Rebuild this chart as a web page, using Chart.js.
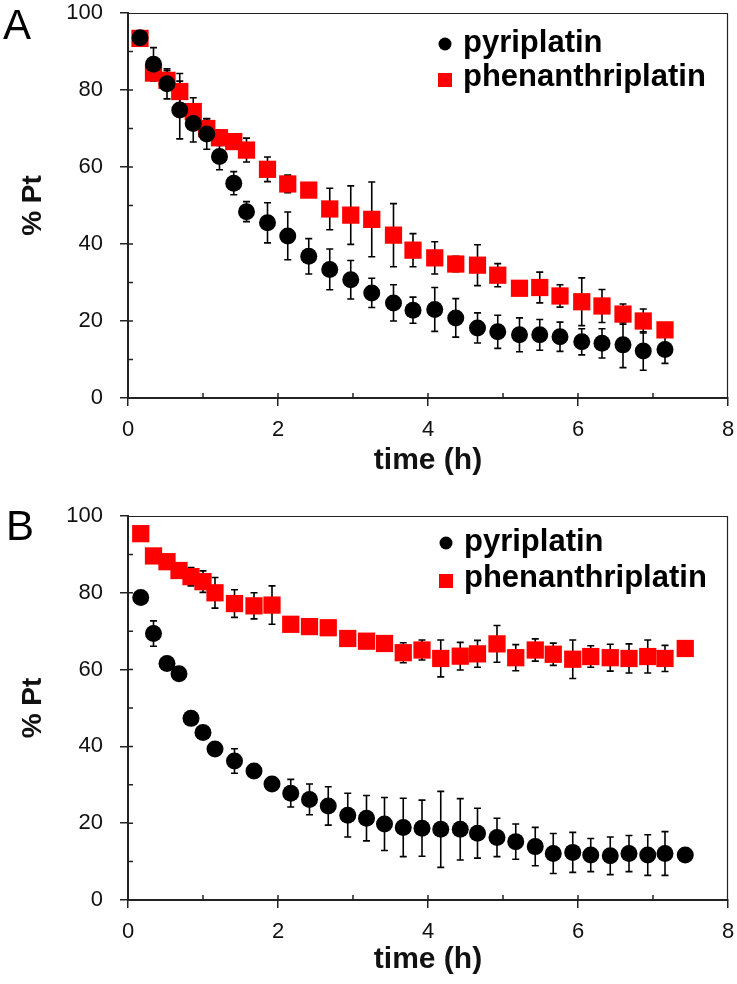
<!DOCTYPE html>
<html>
<head>
<meta charset="utf-8">
<script src="https://cdn.jsdelivr.net/npm/chart.js@4/dist/chart.umd.min.js"></script>
<style>
  html, body { margin: 0; padding: 0; background: #fff; }
  #wrap { position: relative; width: 737px; height: 984px; overflow: hidden; }
  .panel { position: absolute; left: 0; }
</style>
</head>
<body>
<div id="wrap">
  <div class="panel" style="top:0px"><canvas id="chartA" width="737" height="490"></canvas></div>
  <div class="panel" style="top:490px"><canvas id="chartB" width="737" height="494"></canvas></div>
</div>
<script>
// ---------- data ----------
const seriesNames = ['pyriplatin', 'phenanthriplatin'];
const panelLabels = ['A', 'B'];
const xAxisTitle = 'time (h)';
const yAxisTitle = '% Pt';
const xTicks = [0, 2, 4, 6, 8];
const yTicks = [0, 20, 40, 60, 80, 100];

// Panel A
const timeA = [0.16, 0.34, 0.52, 0.69, 0.87, 1.05, 1.22, 1.41, 1.58, 1.86, 2.13, 2.41, 2.69, 2.97, 3.25,
               3.54, 3.80, 4.09, 4.37, 4.66, 4.93, 5.22, 5.49, 5.76, 6.05, 6.32, 6.60, 6.87, 7.16];
const pyriA = [93.6, 86.7, 81.6, 74.8, 71.3, 68.6, 62.7, 55.8, 48.4, 45.5, 42.1, 36.8, 33.4, 30.7, 27.3,
               24.7, 22.8, 23.0, 20.8, 18.2, 17.2, 16.4, 16.4, 15.9, 14.6, 14.2, 13.8, 12.2, 12.6];
const pyriAErr = [0, 4.3, 3.9, 7.5, 4.8, 4.0, 3.4, 3.0, 2.6, 5.2, 6.2, 4.6, 5.3, 5.0, 3.8,
                  4.7, 3.4, 5.7, 5.0, 3.9, 4.3, 4.4, 4.0, 3.8, 3.4, 3.8, 5.9, 5.0, 3.6];
const phenA = [93.4, 84.4, 82.5, 79.6, 74.4, 70.0, 67.6, 66.6, 64.4, 59.4, 55.6, 54.0, 49.1, 47.5, 46.4,
               42.3, 38.4, 36.4, 34.8, 34.5, 31.9, 28.5, 28.7, 26.5, 25.0, 23.9, 21.8, 20.0, 17.7];
const phenAErr = [0, 2.0, 2.5, 4.7, 3.6, 2.5, 2.0, 2.0, 3.1, 3.2, 2.3, 0, 5.4, 7.6, 9.7,
                  8.2, 4.3, 4.2, 2.0, 5.3, 3.0, 0, 4.0, 2.9, 6.2, 4.3, 2.6, 3.1, 0];

// Panel B
const timeB = [0.17, 0.34, 0.52, 0.68, 0.84, 1.00, 1.16, 1.42, 1.68, 1.92, 2.17, 2.42, 2.67, 2.93, 3.18, 3.42,
               3.67, 3.92, 4.17, 4.43, 4.66, 4.92, 5.17, 5.43, 5.67, 5.93, 6.17, 6.43, 6.68, 6.93, 7.16, 7.43];
const pyriB = [78.8, 69.4, 61.6, 58.9, 47.3, 43.6, 39.3, 36.2, 33.6, 30.2, 27.8, 26.2, 24.5, 22.1, 21.3, 19.8,
               18.9, 18.7, 18.4, 18.4, 17.4, 16.3, 15.2, 13.9, 12.1, 12.4, 11.7, 11.5, 12.1, 11.7, 12.1, 11.7];
const pyriBErr = [0, 3.3, 0, 0, 0, 0, 0, 3.2, 0, 1.5, 3.6, 4.0, 5.0, 5.7, 5.9, 6.9,
                  7.6, 7.3, 9.9, 8.0, 6.5, 5.0, 4.6, 5.0, 5.2, 5.2, 4.3, 4.9, 4.7, 5.3, 5.7, 0];
const phenB = [95.4, 89.6, 88.1, 85.8, 84.2, 82.9, 80.0, 77.2, 76.6, 76.8, 71.8, 71.2, 70.9, 68.1, 67.4, 66.8,
               64.4, 65.1, 62.9, 63.5, 64.1, 66.7, 63.1, 65.1, 64.0, 62.7, 63.4, 63.1, 62.9, 63.4, 62.9, 65.5];
const phenBErr = [0, 0, 0, 0, 2.4, 2.8, 4.0, 3.6, 3.4, 5.0, 0, 0, 0, 0, 0, 0,
                  2.6, 2.6, 4.8, 3.6, 3.5, 4.8, 3.4, 2.9, 2.9, 5.0, 2.8, 3.5, 3.8, 4.3, 3.4, 0];

// ---------- styling ----------
const FONT = '"Liberation Sans", Arial, Helvetica, sans-serif';
const AXIS_COLOR = '#222';

function pts(xs, ys) { return xs.map((x, i) => ({ x: x, y: ys[i] })); }

const errorBarPlugin = {
  id: 'errorBars',
  beforeDatasetsDraw(chart) {
    const ctx = chart.ctx;
    const xs = chart.scales.x, ys = chart.scales.y;
    ctx.save();
    ctx.strokeStyle = '#000';
    ctx.lineWidth = 1.6;
    chart.data.datasets.forEach(ds => {
      (ds.data || []).forEach((p, i) => {
        const e = ds.errors ? ds.errors[i] : 0;
        if (!e) return;
        const px = xs.getPixelForValue(p.x);
        const yTop = ys.getPixelForValue(p.y + e);
        const yBot = ys.getPixelForValue(p.y - e);
        ctx.beginPath();
        ctx.moveTo(px, yTop); ctx.lineTo(px, yBot);
        ctx.moveTo(px - 3.5, yTop); ctx.lineTo(px + 3.5, yTop);
        ctx.moveTo(px - 3.5, yBot); ctx.lineTo(px + 3.5, yBot);
        ctx.stroke();
      });
    });
    ctx.restore();
  }
};

const framePlugin = {
  id: 'frame',
  afterDraw(chart, args, opts) {
    const ctx = chart.ctx;
    const a = chart.chartArea;
    const xs = chart.scales.x, ys = chart.scales.y;
    ctx.save();
    // top and right box lines
    ctx.strokeStyle = AXIS_COLOR;
    ctx.lineWidth = 1.2;
    ctx.beginPath();
    ctx.moveTo(a.left, a.top + 0.5); ctx.lineTo(a.right, a.top + 0.5);
    ctx.moveTo(a.right - 0.5, a.top); ctx.lineTo(a.right - 0.5, a.bottom);
    ctx.stroke();
    // inside tick marks (major + minor)
    ctx.lineWidth = 1.5;
    ctx.beginPath();
    for (let v = 10; v < 100; v += 10) {
      const y = ys.getPixelForValue(v);
      ctx.moveTo(a.left, y); ctx.lineTo(a.left + 5, y);
    }
    for (let v = 1; v < 8; v += 1) {
      const x = xs.getPixelForValue(v);
      ctx.moveTo(x, a.bottom); ctx.lineTo(x, a.bottom - 5);
    }
    ctx.stroke();
    // legend inside plot
    const lx = a.right - opts.legendDx;
    const rows = [opts.row1, opts.row2];
    ctx.font = 'bold 31px ' + FONT;
    ctx.textBaseline = 'middle';
    ctx.textAlign = 'left';
    chart.data.datasets.forEach((ds, i) => {
      const y = a.top + rows[i];
      if (i === 0) {
        ctx.fillStyle = '#000';
        ctx.beginPath(); ctx.arc(lx, y + 1, 6.5, 0, Math.PI * 2); ctx.fill();
      } else {
        ctx.fillStyle = '#ff0000';
        ctx.fillRect(lx - 7, y - 4, 14, 14);
      }
      ctx.fillStyle = '#000';
      ctx.fillText(ds.label, lx + 18, y);
    });
    // panel letter
    ctx.font = '42px ' + FONT;
    ctx.textBaseline = 'alphabetic';
    ctx.fillStyle = '#000';
    ctx.fillText(opts.letter, opts.letterX, opts.letterY);
    ctx.restore();
  }
};

function makeChart(id, time, pyri, pyriErr, phen, phenErr, cfg) {
  return new Chart(document.getElementById(id), {
    type: 'scatter',
    data: {
      datasets: [
        { label: seriesNames[0], data: pts(time, pyri), errors: pyriErr,
          pointStyle: 'circle', pointRadius: 8.5, pointHoverRadius: 8.5,
          backgroundColor: '#000', borderColor: '#000', borderWidth: 0, showLine: false },
        { label: seriesNames[1], data: pts(time, phen), errors: phenErr,
          pointStyle: 'rect', pointRadius: 12.2, pointHoverRadius: 12.2,
          backgroundColor: '#ff0000', borderColor: '#ff0000', borderWidth: 0, showLine: false }
      ]
    },
    options: {
      responsive: false,
      animation: false,
      devicePixelRatio: 1,
      layout: { autoPadding: false, padding: { left: 0, top: cfg.padTop, right: 9, bottom: 0 } },
      plugins: {
        legend: { display: false },
        tooltip: { enabled: false },
        frame: cfg.frame
      },
      scales: {
        x: {
          type: 'linear', min: 0, max: 8,
          afterFit: s => { s.height = cfg.xHeight; s.paddingLeft = 0; s.paddingRight = 0; },
          afterBuildTicks: s => { s.ticks = xTicks.map(v => ({ value: v })); },
          grid: { drawOnChartArea: false, drawTicks: true, tickLength: 8, color: AXIS_COLOR, lineWidth: 1.5 },
          border: { display: true, color: AXIS_COLOR, width: 2 },
          ticks: { color: '#111', font: { family: FONT, size: 22 }, padding: 11, maxRotation: 0 },
          title: { display: true, text: xAxisTitle, color: '#111',
                   font: { family: FONT, size: 30, weight: 'bold' }, padding: { top: 0, bottom: cfg.xTitlePad } }
        },
        y: {
          type: 'linear', min: 0, max: 100,
          afterFit: s => { s.width = 128; s.paddingTop = 0; s.paddingBottom = 0; },
          afterBuildTicks: s => { s.ticks = yTicks.map(v => ({ value: v })); },
          grid: { drawOnChartArea: false, drawTicks: true, tickLength: 8, color: AXIS_COLOR, lineWidth: 1.5 },
          border: { display: true, color: AXIS_COLOR, width: 2 },
          ticks: { color: '#111', font: { family: FONT, size: 22 }, padding: 17 },
          title: { display: true, text: yAxisTitle, color: '#111',
                   font: { family: FONT, size: 28, weight: 'bold' }, padding: { top: 16, bottom: 0 } }
        }
      }
    },
    plugins: [errorBarPlugin, framePlugin]
  });
}

makeChart('chartA', timeA, pyriA, pyriAErr, phenA, phenAErr, {
  padTop: 13, xHeight: 92, xTitlePad: 11,
  frame: { legendDx: 283, row1: 30, row2: 64, letter: panelLabels[0], letterX: 3, letterY: 39 }
});
makeChart('chartB', timeB, pyriB, pyriBErr, phenB, phenBErr, {
  padTop: 26, xHeight: 84, xTitlePad: 6,
  frame: { legendDx: 282, row1: 26, row2: 62, letter: panelLabels[1], letterX: 6, letterY: 50 }
});
</script>
</body>
</html>
